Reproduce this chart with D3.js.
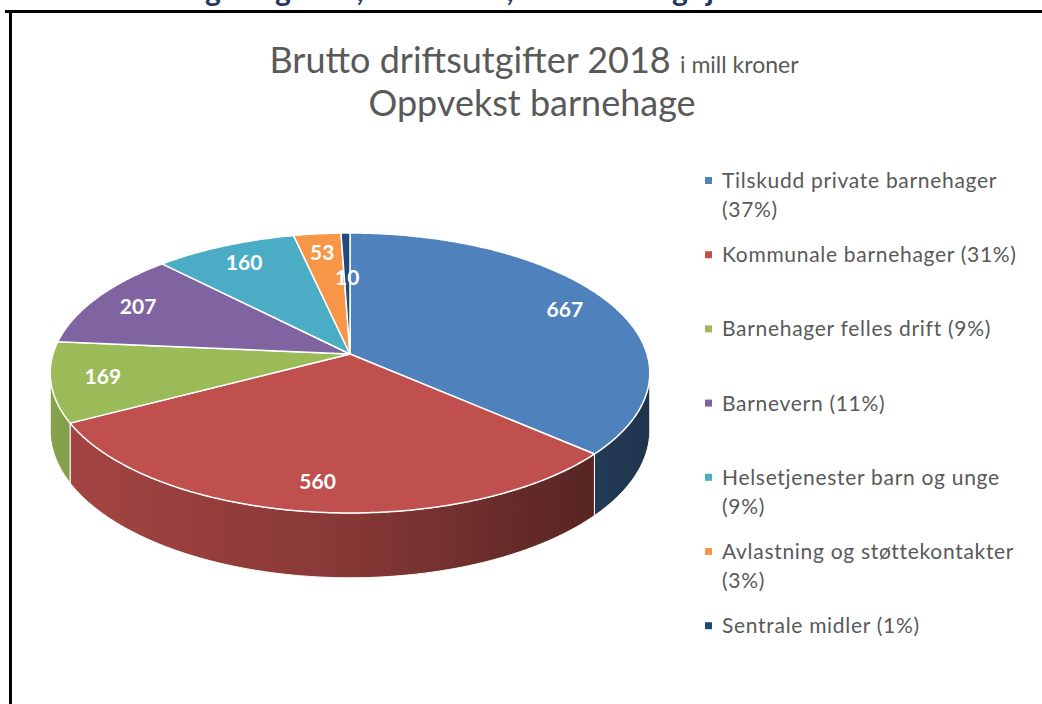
<!DOCTYPE html>
<html>
<head>
<meta charset="utf-8">
<script src="https://cdn.jsdelivr.net/npm/d3@7"></script>
<style>
    html, body { margin: 0; padding: 0; background: #fff; }
    svg { display: block; }
    text { font-family: Lato, "Open Sans", sans-serif; }
</style>
</head>
<body>
<div class="pie-chart"></div>
<script>
"use strict";

// data
const categories = [
    "Tilskudd private barnehager",
    "Kommunale barnehager",
    "Barnehager felles drift",
    "Barnevern",
    "Helsetjenester barn og unge",
    "Avlastning og støttekontakter",
    "Sentrale midler"
];
const values = [667, 560, 169, 207, 160, 53, 10];
const colors = ["#4f81bd", "#c0504d", "#9bbb59", "#8064a2", "#4bacc6", "#f79646", "#1f497d"];
const title_main = "Brutto driftsutgifter 2018";
const title_unit = "i mill kroner";
const title_sub = "Oppvekst barnehage";
// only the descenders of the page heading above the frame are visible
const heading_glyphs = ["g", "g", ",", ",", "g", "j"];

window.onload = () => main();

function main() {
    const config = {
        width: 1042,
        height: 704,
        cx: 350, cy: 354,     // pie apex
        a: 297, b: 137.4,     // disc radii before perspective
        p: 0.1357,            // perspective strength
        depth: 56             // pie thickness
    };
    create_pie_chart(config);
}

function create_pie_chart(config) {
    const svg = d3.select(".pie-chart")
        .append("svg")
        .attr("width", config.width)
        .attr("height", config.height);

    const defs = svg.append("defs");

    // heading cut off by the top of the picture
    const heading_x = [213, 283, 360, 510, 680, 710];
    svg.append("g")
        .selectAll("text")
        .data(heading_glyphs)
        .enter()
        .append("text")
        .attr("x", (d, i) => heading_x[i])
        .attr("y", 1)
        .attr("text-anchor", "middle")
        .style("font-size", "30px")
        .style("font-weight", "bold")
        .style("fill", "#1f3864")
        .text((d) => d);

    // frame
    svg.append("path")
        .attr("d", "M5,11.5H1042M10.5,11V704")
        .attr("fill", "none")
        .attr("stroke", "#000")
        .attr("stroke-width", 3);

    // title
    const title = svg.append("text")
        .attr("x", 534)
        .attr("y", 73)
        .attr("text-anchor", "middle")
        .style("fill", "#595959");
    title.append("tspan").style("font-size", "36px").text(title_main + " ");
    title.append("tspan").style("font-size", "23px").text(title_unit);

    svg.append("text")
        .attr("x", 532)
        .attr("y", 116)
        .attr("text-anchor", "middle")
        .style("font-size", "36px")
        .style("fill", "#595959")
        .text(title_sub);

    // perspective projection of the disc
    const proj = (theta, r, z) => {
        const u = r * Math.sin(theta);
        const v = -r * Math.cos(theta);
        const w = 1 - config.p * v;
        return [config.cx + config.a * u / w, config.cy + (config.b * v + z * config.depth) / w];
    };
    const arc_points = (start, end, r, z) => {
        const n = Math.max(2, Math.ceil(Math.abs(end - start) / (Math.PI / 360)));
        return d3.range(n + 1).map((k) => proj(start + (end - start) * k / n, r, z));
    };
    const line = d3.line();

    const total = d3.sum(values);
    const pie = d3.pie().sort(null).startAngle(0).endAngle(2 * Math.PI);
    const arcs = pie(values);

    // side gradients, light on the left, dark on the right
    colors.forEach((c, i) => {
        const grad = defs.append("linearGradient")
            .attr("id", "side-" + i)
            .attr("gradientUnits", "userSpaceOnUse")
            .attr("x1", config.cx - config.a - 5)
            .attr("x2", config.cx + config.a + 5)
            .attr("y1", 0).attr("y2", 0);
        grad.append("stop").attr("offset", "0%").attr("stop-color", d3.color(c).darker(0.4));
        grad.append("stop").attr("offset", "50%").attr("stop-color", d3.color(c).darker(1.0));
        grad.append("stop").attr("offset", "100%").attr("stop-color", d3.color(c).darker(2.6));
    });

    // visible part of the rim
    const vis_start = Math.acos(-config.p);
    const vis_end = 2 * Math.PI - vis_start;

    const sides = svg.append("g");
    arcs.forEach((d, i) => {
        const s = Math.max(d.startAngle, vis_start);
        const e = Math.min(d.endAngle, vis_end);
        if (e <= s) return;
        const pts = arc_points(s, e, 1, 0).concat(arc_points(e, s, 1, 1));
        sides.append("path")
            .attr("d", line(pts) + "Z")
            .attr("fill", "url(#side-" + i + ")")
            .attr("stroke", "#fff")
            .attr("stroke-width", 1);
    });

    const tops = svg.append("g");
    tops.selectAll("path")
        .data(arcs)
        .enter()
        .append("path")
        .attr("d", (d) => line([proj(0, 0, 0)].concat(arc_points(d.startAngle, d.endAngle, 1, 0))) + "Z")
        .attr("fill", (d, i) => colors[i])
        .attr("stroke", "#fff")
        .attr("stroke-width", 1.5)
        .attr("stroke-linejoin", "round");

    // value labels
    const label_pos = (d) => proj((d.startAngle + d.endAngle) / 2, d.value / total < 0.02 ? 0.6 : 0.83, 0);
    svg.append("g")
        .selectAll("text")
        .data(arcs)
        .enter()
        .append("text")
        .attr("x", (d) => label_pos(d)[0])
        .attr("y", (d) => label_pos(d)[1])
        .attr("text-anchor", "middle")
        .attr("dy", "0.35em")
        .style("font-size", "21px")
        .style("font-weight", "bold")
        .style("fill", "#fff")
        .text((d) => d.value);

    // legend
    const legend = svg.append("g");
    const max_width = 305;
    categories.forEach((name, i) => {
        const label = name + " (" + Math.round(values[i] / total * 100) + "%)";
        const y0 = 188 + i * 74.2;
        legend.append("rect")
            .attr("x", 705)
            .attr("y", y0 - 11)
            .attr("width", 7)
            .attr("height", 7)
            .attr("fill", colors[i]);
        const text = legend.append("text")
            .attr("x", 722)
            .attr("y", y0)
            .style("font-size", "21px")
            .style("letter-spacing", "0.7px")
            .style("fill", "#595959");
        // simple word wrap
        const words = label.split(" ");
        let current = [];
        let line_no = 0;
        let tspan = text.append("tspan").attr("x", 722).attr("y", y0);
        words.forEach((word) => {
            current.push(word);
            tspan.text(current.join(" "));
            if (tspan.node().getComputedTextLength() > max_width && current.length > 1) {
                current.pop();
                tspan.text(current.join(" "));
                current = [word];
                line_no += 1;
                tspan = text.append("tspan").attr("x", 722).attr("y", y0 + line_no * 29).text(word);
            }
        });
    });
}
</script>
</body>
</html>
